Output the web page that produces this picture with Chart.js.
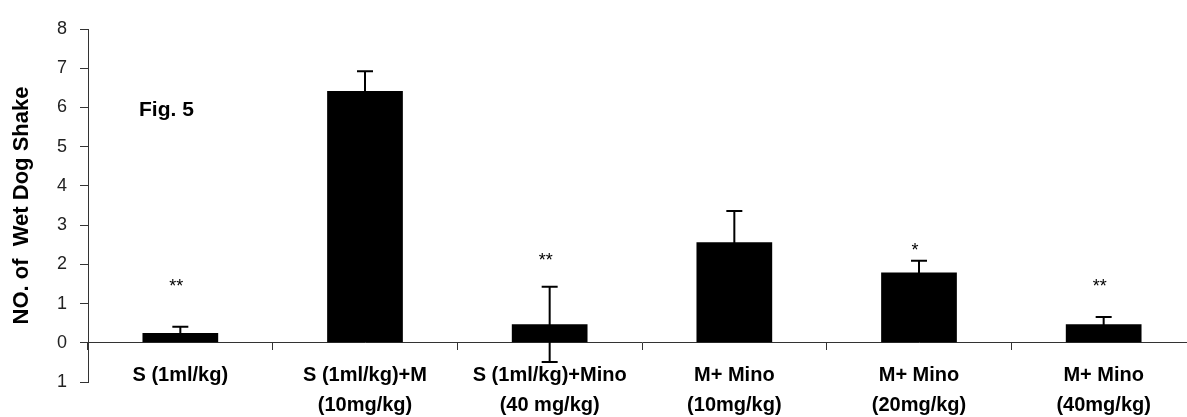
<!DOCTYPE html>
<html>
<head>
<meta charset="utf-8">
<title>Fig. 5</title>
<script src="https://cdn.jsdelivr.net/npm/chart.js@4/dist/chart.umd.min.js"></script>
<style>
  html, body { margin: 0; padding: 0; background: #fff; overflow: hidden; }
  #wrap { position: absolute; left: 0; top: 0; width: 1200px; height: 417px; }
</style>
</head>
<body>
<div id="wrap"><canvas id="chart" width="1200" height="417"></canvas></div>
<script>
// ==========================
// Data
// ==========================

const categories = [
  ["S (1ml/kg)"],
  ["S (1ml/kg)+M", "(10mg/kg)"],
  ["S (1ml/kg)+Mino", "(40 mg/kg)"],
  ["M+ Mino", "(10mg/kg)"],
  ["M+ Mino", "(20mg/kg)"],
  ["M+ Mino", "(40mg/kg)"],
];
const means = [0.25, 6.42, 0.47, 2.56, 1.79, 0.47];
const errors = [0.16, 0.5, 0.96, 0.8, 0.3, 0.19];
const marks = ["**", "", "**", "", "*", "**"];
const markLevels = [1.3, null, 1.96, null, 2.21, 1.3];
const yTickLabels = ["1", "0", "1", "2", "3", "4", "5", "6", "7", "8"];

const FONT = "'Liberation Sans', Arial, sans-serif";

// ==========================
// Error bars, marks, caption
// ==========================

const extras = {
  id: "extras",
  afterDatasetsDraw(chart) {
    const ctx = chart.ctx;
    const yScale = chart.scales.y;
    const meta = chart.getDatasetMeta(0);

    ctx.save();
    ctx.strokeStyle = "#000";
    ctx.lineWidth = 2;
    meta.data.forEach((bar, i) => {
      const top = yScale.getPixelForValue(means[i] + errors[i]);
      const bottom = yScale.getPixelForValue(means[i] - errors[i]);
      ctx.beginPath();
      ctx.moveTo(bar.x, top);
      ctx.lineTo(bar.x, bottom);
      ctx.moveTo(bar.x - 8, top);
      ctx.lineTo(bar.x + 8, top);
      ctx.moveTo(bar.x - 8, bottom);
      ctx.lineTo(bar.x + 8, bottom);
      ctx.stroke();
    });

    // significance marks
    ctx.fillStyle = "#000";
    ctx.font = "18px " + FONT;
    ctx.textAlign = "center";
    ctx.textBaseline = "alphabetic";
    meta.data.forEach((bar, i) => {
      if (!marks[i]) return;
      ctx.fillText(marks[i], bar.x - 4, yScale.getPixelForValue(markLevels[i]));
    });

    // caption
    ctx.font = "bold 21px " + FONT;
    ctx.textAlign = "left";
    ctx.fillText("Fig. 5", 139, 116);
    ctx.restore();
  },
};

// ==========================
// Chart
// ==========================

new Chart(document.getElementById("chart"), {
  type: "bar",

  data: {
    labels: categories,
    datasets: [
      {
        data: means,
        backgroundColor: "#000",
        borderWidth: 0,
        barPercentage: 0.41,
        categoryPercentage: 1.0,
      },
    ],
  },

  options: {
    responsive: false,
    animation: false,
    layout: {
      padding: { left: 0, right: 4, top: 29, bottom: 35 },
    },
    plugins: {
      legend: { display: false },
      tooltip: { enabled: false },
    },
    scales: {
      x: {
        position: { y: 0 },
        offset: true,
        grid: {
          offset: true,
          drawOnChartArea: false,
          drawTicks: true,
          tickLength: 7,
          color: "#333",
        },
        border: { color: "#333", width: 1 },
        ticks: {
          color: "#000",
          autoSkip: false,
          maxRotation: 0,
          padding: 11,
          font: { family: FONT, size: 20, weight: "bold", lineHeight: 1.5 },
        },
      },
      y: {
        min: -1,
        max: 8,
        afterFit(scale) {
          scale.width = 88;
        },
        grid: {
          drawOnChartArea: false,
          drawTicks: true,
          tickLength: 8,
          color: "#333",
        },
        border: { color: "#333", width: 1 },
        ticks: {
          stepSize: 1,
          padding: 13,
          color: "#222",
          font: { family: FONT, size: 18 },
          callback: (value, index) => yTickLabels[index],
        },
        title: {
          display: true,
          text: "NO. of  Wet Dog Shake",
          color: "#000",
          padding: { top: 9 },
          font: { family: FONT, size: 22, weight: "bold" },
        },
      },
    },
  },

  plugins: [extras],
});
</script>
</body>
</html>
